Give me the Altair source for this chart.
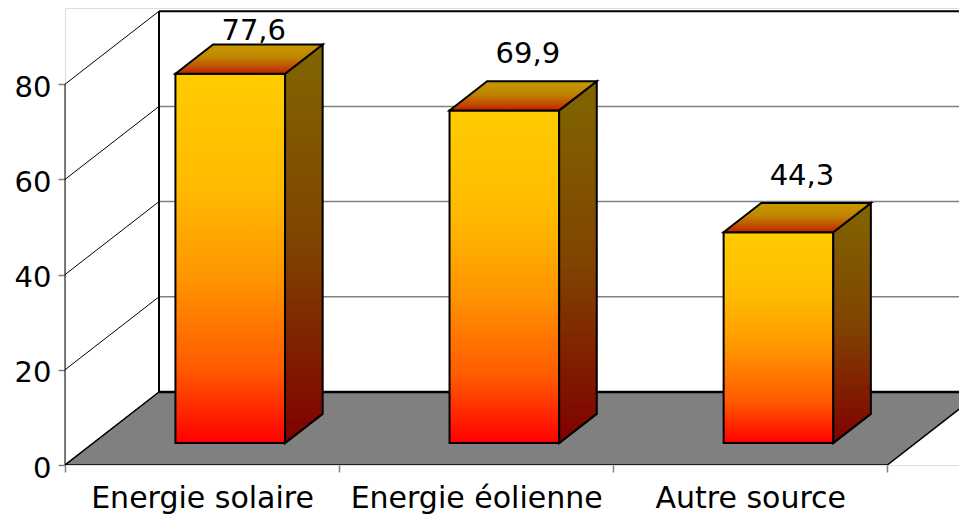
import json
import altair as alt
import pandas as pd

# ---- data ----
categories = ["Energie solaire", "Energie éolienne", "Autre source"]
values = [77.6, 69.9, 44.3]
value_labels = ["77,6", "69,9", "44,3"]
y_ticks = [0, 20, 40, 60, 80]
grid_levels = [20, 40, 60]

# ---- layout constants (pseudo-3D projection) ----
W, H = 894, 457
PX_PER_CAT, PX_PER_UNIT = 274.1, 4.76
XMAX, YMAX = W / PX_PER_CAT, H / PX_PER_UNIT
DX, DY = 94 / PX_PER_CAT, 73 / PX_PER_UNIT     # depth vector in data units
F0, F1 = 0.3, 0.7                              # bar front / back depth fraction
B0, B1 = 0.3, 0.7                              # bar extent within a category
NCAT = len(categories)
TOP = max(y_ticks)
FONT = "DejaVu Sans"
LABEL_GAP = 12 / PX_PER_UNIT
LABEL_CEIL = YMAX - 38 / PX_PER_UNIT

xs = alt.Scale(domain=[0, XMAX], nice=False, zero=False)
ys = alt.Scale(domain=[0, YMAX], nice=False, zero=False)

x_axis = alt.Axis(
    values=list(range(NCAT + 1)), labelExpr=json.dumps(categories) + "[datum.value] || ''",
    labelOffset=PX_PER_CAT / 2, tickSize=7, tickColor="#808080", tickWidth=1.5,
    domain=False, grid=False, title=None, labelFont=FONT, labelFontSize=30,
    labelColor="black", labelPadding=11, labelOverlap=False, labelFlush=False,
    labelLimit=400, labelBound=False,
)
y_axis = alt.Axis(
    values=y_ticks, tickSize=7, tickColor="#808080", tickWidth=1.5, domain=False,
    grid=False, title=None, labelFont=FONT, labelFontSize=29, labelColor="black",
    labelPadding=7, labelOffset=3,
)


def X(f):
    return alt.X(f, type="quantitative", scale=xs, axis=x_axis, stack=None)


def Y(f):
    return alt.Y(f, type="quantitative", scale=ys, axis=y_axis, stack=None)


def grad(stops):
    return alt.Gradient(
        gradient="linear",
        stops=[alt.GradientStop(color=c, offset=o) for o, c in stops],
        x1=0, y1=0, x2=0, y2=1,
    )


# ---- tables derived from the arrays ----
back_grid = pd.DataFrame({"x": DX, "x2": NCAT + DX, "y": [g + DY for g in grid_levels]})
back_top = pd.DataFrame({"x": [DX], "x2": [NCAT + DX], "y": [TOP + DY]})
back_left = pd.DataFrame({"x": [DX], "y": [DY], "y2": [TOP + DY]})
left_wall = pd.DataFrame({"x": 0.0, "x2": DX, "y": y_ticks, "y2": [t + DY for t in y_ticks]})
floor = pd.DataFrame({"y": [0.0, DY], "x": [0.0, DX], "x2": [NCAT, NCAT + DX], "k": "floor"})
floor_back = pd.DataFrame({"x": [DX], "x2": [NCAT + DX], "y": [DY]})
y_line = pd.DataFrame({"x": [0.0], "y": [0.0], "y2": [TOP]})

front_rows, side_rows, top_rows, label_rows = [], [], [], []
for i, (c, v, lab) in enumerate(zip(categories, values, value_labels)):
    front_rows.append({"cat": c, "x": i + B0 + F0 * DX, "x2": i + B1 + F0 * DX,
                       "y": F0 * DY, "y2": F0 * DY + v})
    for f in (F0, F1):
        side_rows.append({"cat": c, "x": i + B1 + f * DX, "y": f * DY, "y2": f * DY + v})
        top_rows.append({"cat": c, "y": f * DY + v, "x": i + B0 + f * DX, "x2": i + B1 + f * DX})
    label_rows.append({"cat": c, "t": lab, "x": i + 0.5 + 0.55 * DX,
                       "y": min(F1 * DY + v + LABEL_GAP, LABEL_CEIL)})

front = pd.DataFrame(front_rows)
side = pd.DataFrame(side_rows)
top = pd.DataFrame(top_rows)
lab_df = pd.DataFrame(label_rows)

# ---- layers ----
l_grid = alt.Chart(back_grid).mark_rule(color="#808080", strokeWidth=1.5, clip=True).encode(
    x=X("x"), x2="x2", y=Y("y"))
l_backtop = alt.Chart(back_top).mark_rule(color="black", strokeWidth=2, clip=True).encode(
    x=X("x"), x2="x2", y=Y("y"))
l_backleft = alt.Chart(back_left).mark_rule(color="black", strokeWidth=2).encode(
    x=X("x"), y=Y("y"), y2="y2")
l_leftwall = alt.Chart(left_wall).mark_rule(color="black", strokeWidth=1).encode(
    x=X("x"), x2="x2", y=Y("y"), y2="y2")
l_floor = alt.Chart(floor).mark_area(
    orient="horizontal", fill="#808080", stroke="black", strokeWidth=1.5, clip=True
).encode(y=Y("y"), x=X("x"), x2="x2", detail="k:N")
l_floorback = alt.Chart(floor_back).mark_rule(color="black", strokeWidth=2.5, clip=True).encode(
    x=X("x"), x2="x2", y=Y("y"))
l_yline = alt.Chart(y_line).mark_rule(color="black", strokeWidth=1).encode(
    x=X("x"), y=Y("y"), y2="y2")

l_text = alt.Chart(lab_df).mark_text(
    font=FONT, fontSize=29, color="black", baseline="bottom", align="center"
).encode(x=X("x"), y=Y("y"), text="t:N")
l_front = alt.Chart(front).mark_rect(
    fill=grad([(0, "#FFCC00"), (0.3, "#FFBB00"), (0.55, "#FF9600"), (0.8, "#FF5A00"), (1, "#FF0000")]),
    stroke="black", strokeWidth=2,
).encode(x=X("x"), x2="x2", y=Y("y"), y2="y2")
l_side = alt.Chart(side).mark_area(
    orient="vertical",
    fill=grad([(0, "#806600"), (0.5, "#804400"), (1, "#800000")]),
    stroke="black", strokeWidth=2,
).encode(x=X("x"), y=Y("y"), y2="y2", detail="cat:N")
l_top = alt.Chart(top).mark_area(
    orient="horizontal",
    fill=grad([(0, "#C49A00"), (0.45, "#C08400"), (0.8, "#C04800"), (1, "#C02000")]),
    stroke="black", strokeWidth=2,
).encode(y=Y("y"), x=X("x"), x2="x2", detail="cat:N")

chart = alt.layer(
    l_grid, l_backtop, l_backleft, l_leftwall, l_floor, l_floorback, l_yline,
    l_text, l_front, l_side, l_top,
).properties(
    width=W, height=H,
    autosize=alt.AutoSizeParams(type="none"),
    padding={"left": 57, "top": 0, "right": 0, "bottom": 55},
).configure_view(stroke=None).configure(background="white")

chart.save("out.html", embed_options={"renderer": "svg", "actions": False})
